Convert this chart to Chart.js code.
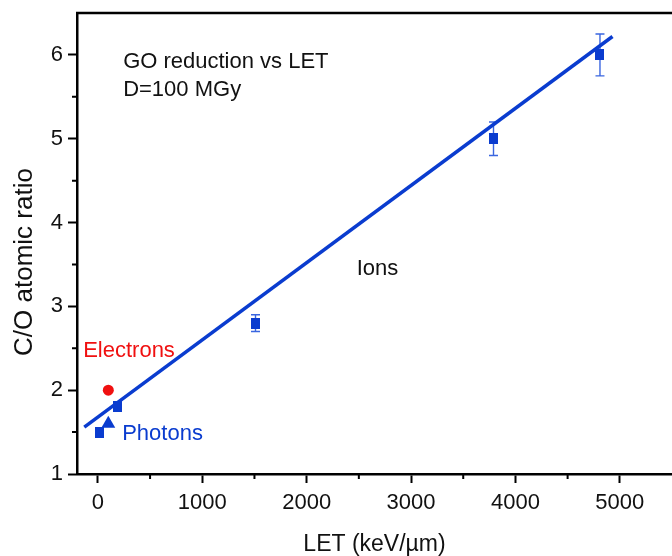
<!DOCTYPE html>
<html>
<head>
<meta charset="utf-8">
<script src="https://cdn.jsdelivr.net/npm/chart.js@4.4.1/dist/chart.umd.min.js"></script>
<style>
  html, body { margin: 0; padding: 0; background: #fff; }
</style>
</head>
<body>
<canvas id="chart" width="672" height="556"></canvas>
<script>
// data
const ionLet = [1510, 3790, 4810];
const ionRatio = [2.8, 5.0, 6.0];
const ionErr = [0.1, 0.2, 0.25];

const photonSquareLet = [20, 190];
const photonSquareRatio = [1.5, 1.8];
const photonTriangleLet = [100];
const photonTriangleRatio = [1.6];

const electronLet = [100];
const electronRatio = [2.0];

// linear fit, end points
const fitLet = [-130, 4930];
const fitRatio = [1.56, 6.22];

const xTicks = [0, 1000, 2000, 3000, 4000, 5000];
const xMinorTicks = [500, 1500, 2500, 3500, 4500];
const yTicks = [1, 2, 3, 4, 5, 6];
const yMinorTicks = [1.5, 2.5, 3.5, 4.5, 5.5];

// text labels placed in data coordinates (left edge, baseline)
const labelTexts = ["GO reduction vs LET", "D=100 MGy", "Ions", "Electrons", "Photons"];
const labelX = [242, 242, 2480, -141, 233];
const labelY = [5.845, 5.511, 3.375, 2.396, 1.406];
const labelColors = ["#111", "#111", "#111", "#f01010", "#0a3ccf"];

const BLUE = "#0a3ccf";
const RED = "#f01010";
const FONT = "'Liberation Sans', Arial, Helvetica, sans-serif";

function points(xs, ys) {
    return xs.map((v, i) => ({ x: v, y: ys[i] }));
}

// the squares in the figure are a little taller than wide
function makeBox(w, h, color) {
    const c = document.createElement("canvas");
    c.width = w;
    c.height = h;
    const g = c.getContext("2d");
    g.fillStyle = color;
    g.fillRect(0, 0, w, h);
    return c;
}
const boxMarker = makeBox(9, 11, BLUE);

const errorBars = {
    id: "errorBars",
    beforeDatasetsDraw(chart) {
        const { ctx, scales: { x, y } } = chart;
        ctx.save();
        ctx.strokeStyle = "#3a66e0";
        ctx.lineWidth = 1.4;
        ionLet.forEach((v, i) => {
            const px = x.getPixelForValue(v);
            const top = y.getPixelForValue(ionRatio[i] + ionErr[i]);
            const bot = y.getPixelForValue(ionRatio[i] - ionErr[i]);
            ctx.beginPath();
            ctx.moveTo(px, top);
            ctx.lineTo(px, bot);
            ctx.moveTo(px - 4.5, top);
            ctx.lineTo(px + 4.5, top);
            ctx.moveTo(px - 4.5, bot);
            ctx.lineTo(px + 4.5, bot);
            ctx.stroke();
        });
        ctx.restore();
    },
};

const extras = {
    id: "extras",
    afterDraw(chart) {
        const { ctx, chartArea, scales: { x, y } } = chart;
        ctx.save();
        ctx.strokeStyle = "#000";

        // minor ticks
        ctx.lineWidth = 2;
        ctx.beginPath();
        xMinorTicks.forEach((v) => {
            const px = x.getPixelForValue(v);
            ctx.moveTo(px, chartArea.bottom);
            ctx.lineTo(px, chartArea.bottom + 5);
        });
        yMinorTicks.forEach((v) => {
            const py = y.getPixelForValue(v);
            ctx.moveTo(chartArea.left - 5, py);
            ctx.lineTo(chartArea.left, py);
        });
        ctx.stroke();

        // top frame line
        ctx.lineWidth = 2.5;
        ctx.beginPath();
        ctx.moveTo(chartArea.left - 1, chartArea.top);
        ctx.lineTo(chartArea.right, chartArea.top);
        ctx.stroke();

        // annotations
        ctx.font = "22px " + FONT;
        ctx.textAlign = "left";
        ctx.textBaseline = "alphabetic";
        labelTexts.forEach((t, i) => {
            ctx.fillStyle = labelColors[i];
            ctx.fillText(t, x.getPixelForValue(labelX[i]), y.getPixelForValue(labelY[i]));
        });

        // y axis title
        ctx.fillStyle = "#111";
        ctx.font = "26px " + FONT;
        ctx.textAlign = "center";
        ctx.textBaseline = "middle";
        ctx.translate(25, 262);
        ctx.rotate(-Math.PI / 2);
        ctx.fillText("C/O atomic ratio", 0, 0);
        ctx.restore();
    },
};

const ctx = document.getElementById("chart").getContext("2d");
const chart = new Chart(ctx, {
    type: "scatter",
    data: {
        datasets: [
            {
                label: "Ions",
                data: points(ionLet, ionRatio),
                pointStyle: boxMarker,
                order: 1,
            },
            {
                label: "Photons",
                data: points(photonSquareLet, photonSquareRatio),
                pointStyle: boxMarker,
                order: 1,
            },
            {
                label: "Photons (triangle)",
                data: points(photonTriangleLet, photonTriangleRatio),
                pointStyle: "triangle",
                pointRadius: 8,
                backgroundColor: BLUE,
                borderWidth: 0,
                order: 1,
            },
            {
                label: "Electrons",
                data: points(electronLet, electronRatio),
                pointStyle: "circle",
                pointRadius: 5.5,
                backgroundColor: RED,
                borderWidth: 0,
                order: 1,
            },
            {
                label: "Fit",
                type: "line",
                data: points(fitLet, fitRatio),
                borderColor: BLUE,
                borderWidth: 3.5,
                pointRadius: 0,
                fill: false,
                order: 2,
            },
        ],
    },
    options: {
        responsive: false,
        animation: false,
        layout: { autoPadding: false, padding: { top: 13, right: 0, left: 0, bottom: 0 } },
        plugins: {
            legend: { display: false },
            tooltip: { enabled: false },
        },
        scales: {
            x: {
                type: "linear",
                min: -200,
                max: 5500,
                afterBuildTicks: (s) => { s.ticks = xTicks.map((v) => ({ value: v })); },
                afterFit: (s) => {
                    s.height = 82;
                    s.paddingLeft = 0;
                    s.paddingRight = 0;
                },
                border: { display: true, color: "#000", width: 2.5 },
                grid: { drawOnChartArea: false, drawTicks: true, tickLength: 9, tickWidth: 2, tickColor: "#000" },
                ticks: {
                    color: "#111",
                    font: { family: FONT, size: 22 },
                    padding: 7,
                    maxRotation: 0,
                    callback: (v) => v,
                },
                title: {
                    display: true,
                    text: "LET (keV/\u00b5m)",
                    color: "#111",
                    font: { family: FONT, size: 23 },
                    padding: { top: 0, bottom: -2 },
                },
            },
            y: {
                type: "linear",
                min: 1,
                max: 6.5,
                afterBuildTicks: (s) => { s.ticks = yTicks.map((v) => ({ value: v })); },
                afterFit: (s) => {
                    s.width = 77;
                    s.paddingTop = 0;
                    s.paddingBottom = 0;
                },
                border: { display: true, color: "#000", width: 2.5 },
                grid: { drawOnChartArea: false, drawTicks: true, tickLength: 9, tickWidth: 2, tickColor: "#000" },
                ticks: {
                    color: "#111",
                    font: { family: FONT, size: 22 },
                    padding: 5,
                    callback: (v) => v,
                },
            },
        },
    },
    plugins: [errorBars, extras],
});
</script>
</body>
</html>
